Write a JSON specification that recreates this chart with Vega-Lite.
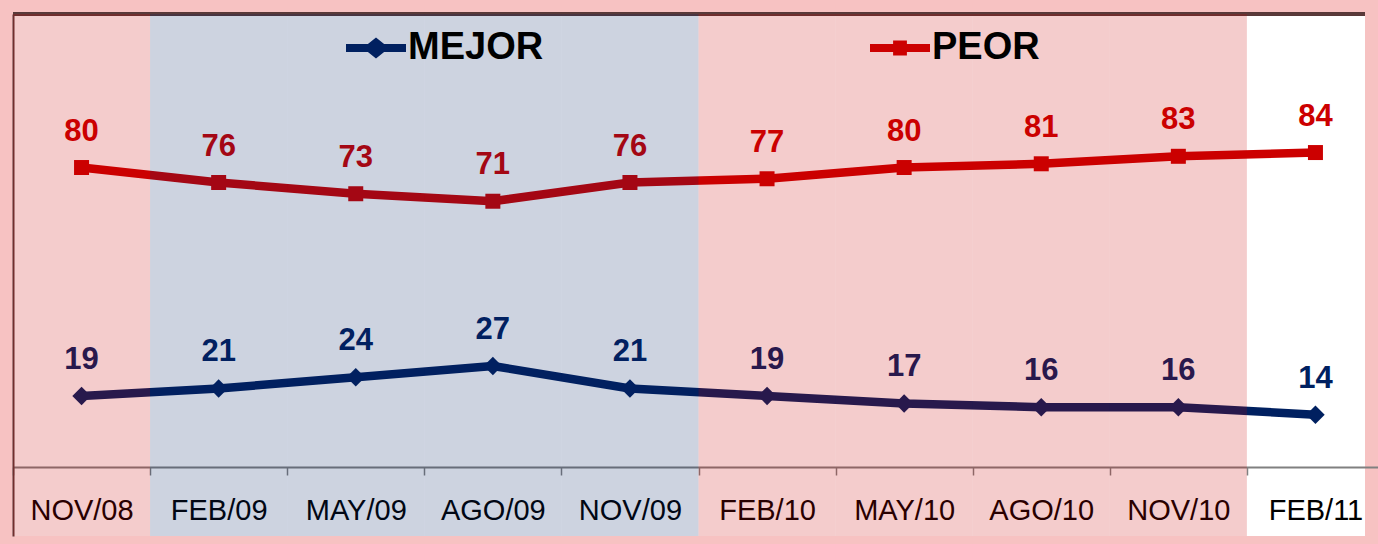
{
  "$schema": "https://vega.github.io/schema/vega-lite/v6.json",
  "width": 1352,
  "height": 522,
  "autosize": {"type": "none"},
  "padding": {"left": 13, "top": 14, "right": 13, "bottom": 8},
  "background": "#F7C2C2",
  "config": {
    "view": {"stroke": null, "fill": "#FFFFFF"},
    "font": "Liberation Sans"
  },
  "datasets": {
    "serie": [
      {"fecha": "NOV/08", "serie": "MEJOR", "valor": 19},
      {"fecha": "FEB/09", "serie": "MEJOR", "valor": 21},
      {"fecha": "MAY/09", "serie": "MEJOR", "valor": 24},
      {"fecha": "AGO/09", "serie": "MEJOR", "valor": 27},
      {"fecha": "NOV/09", "serie": "MEJOR", "valor": 21},
      {"fecha": "FEB/10", "serie": "MEJOR", "valor": 19},
      {"fecha": "MAY/10", "serie": "MEJOR", "valor": 17},
      {"fecha": "AGO/10", "serie": "MEJOR", "valor": 16},
      {"fecha": "NOV/10", "serie": "MEJOR", "valor": 16},
      {"fecha": "FEB/11", "serie": "MEJOR", "valor": 14},
      {"fecha": "NOV/08", "serie": "PEOR", "valor": 80},
      {"fecha": "FEB/09", "serie": "PEOR", "valor": 76},
      {"fecha": "MAY/09", "serie": "PEOR", "valor": 73},
      {"fecha": "AGO/09", "serie": "PEOR", "valor": 71},
      {"fecha": "NOV/09", "serie": "PEOR", "valor": 76},
      {"fecha": "FEB/10", "serie": "PEOR", "valor": 77},
      {"fecha": "MAY/10", "serie": "PEOR", "valor": 80},
      {"fecha": "AGO/10", "serie": "PEOR", "valor": 81},
      {"fecha": "NOV/10", "serie": "PEOR", "valor": 83},
      {"fecha": "FEB/11", "serie": "PEOR", "valor": 84}
    ],
    "zonas": [
      {"fecha": "NOV/08", "zona": "rosa"},
      {"fecha": "FEB/09", "zona": "azul"},
      {"fecha": "MAY/09", "zona": "azul"},
      {"fecha": "AGO/09", "zona": "azul"},
      {"fecha": "NOV/09", "zona": "azul"},
      {"fecha": "FEB/10", "zona": "rosa"},
      {"fecha": "MAY/10", "zona": "rosa"},
      {"fecha": "AGO/10", "zona": "rosa"},
      {"fecha": "NOV/10", "zona": "rosa"}
    ]
  },
  "encoding": {
    "x": {
      "field": "fecha",
      "type": "ordinal",
      "sort": null,
      "scale": {
        "domain": ["NOV/08", "FEB/09", "MAY/09", "AGO/09", "NOV/09", "FEB/10", "MAY/10", "AGO/10", "NOV/10", "FEB/11"],
        "range": [0, 1371],
        "paddingInner": 0,
        "paddingOuter": 0
      },
      "axis": {
        "orient": "bottom",
        "offset": -69,
        "title": null,
        "labelAngle": 0,
        "tickBand": "extent",
        "domainColor": "#808080",
        "domainWidth": 2,
        "tickColor": "#808080",
        "tickWidth": 1.5,
        "tickSize": 8,
        "labelFont": "Liberation Sans",
        "labelFontSize": 29,
        "labelColor": "#000000",
        "labelPadding": 21
      }
    }
  },
  "layer": [
    {
      "data": {"name": "serie"},
      "mark": {"type": "rule", "color": "#5A3A3A", "strokeWidth": 2.5},
      "encoding": {
        "x": null,
        "y": {"datum": 121, "type": "quantitative", "scale": {"domain": [-18.4, 121], "nice": false, "zero": false},
              "axis": {"orient": "left", "labels": false, "ticks": false, "grid": false, "title": null, "domainColor": "#5A3A3A", "domainWidth": 2}}
      }
    },
    {
      "data": {"name": "serie"},
      "mark": {"type": "line", "strokeWidth": 8.5, "strokeJoin": "round"},
      "encoding": {
        "y": {"field": "valor", "type": "quantitative"},
        "color": {"field": "serie", "type": "nominal", "scale": {"domain": ["MEJOR", "PEOR", "rosa", "azul"], "range": ["#002060", "#CC0000", "#C80000", "#052364"]}, "legend": null}
      }
    },
    {
      "data": {"name": "serie"},
      "transform": [{"filter": "datum.serie == 'MEJOR'"}],
      "mark": {"type": "point", "shape": "diamond", "size": 340, "filled": true, "opacity": 1},
      "encoding": {
        "y": {"field": "valor", "type": "quantitative"},
        "color": {"field": "serie", "type": "nominal", "legend": null}
      }
    },
    {
      "data": {"name": "serie"},
      "transform": [{"filter": "datum.serie == 'PEOR'"}],
      "mark": {"type": "point", "shape": "square", "size": 225, "filled": true, "opacity": 1},
      "encoding": {
        "y": {"field": "valor", "type": "quantitative"},
        "color": {"field": "serie", "type": "nominal", "legend": null}
      }
    },
    {
      "data": {"name": "serie"},
      "mark": {"type": "text", "fontSize": 31, "fontWeight": "bold", "font": "Liberation Sans", "baseline": "middle", "align": "center", "dy": -36},
      "encoding": {
        "y": {"field": "valor", "type": "quantitative"},
        "text": {"field": "valor", "type": "quantitative"},
        "color": {"field": "serie", "type": "nominal", "legend": null}
      }
    },
    {
      "data": {"name": "zonas"},
      "mark": {"type": "rect", "opacity": 0.2},
      "encoding": {
        "y": {"datum": 121, "type": "quantitative"},
        "y2": {"datum": -18.4},
        "color": {"field": "zona", "type": "nominal", "legend": null}
      }
    },
    {
      "data": {"name": "serie"},
      "mark": {"type": "point", "opacity": 0, "filled": true},
      "encoding": {
        "y": {"field": "valor", "type": "quantitative"},
        "fill": {
          "field": "serie", "type": "nominal",
          "scale": {"domain": ["MEJOR", "PEOR"], "range": ["#002060", "#CC0000"]},
          "legend": {"orient": "none", "legendX": 333, "legendY": 4, "direction": "horizontal", "title": null, "labelFont": "Liberation Sans", "labelFontSize": 38, "labelFontWeight": "bold", "labelColor": "#000000", "symbolSize": 3600, "symbolOpacity": 1, "symbolStrokeWidth": 0, "columnPadding": 326, "labelOffset": 2, "padding": 0}
        },
        "shape": {
          "field": "serie", "type": "nominal",
          "scale": {"domain": ["MEJOR", "PEOR"], "range": [
            "M-1,-0.13L-0.27,-0.13L0,-0.35L0.27,-0.13L1,-0.13L1,0.13L0.27,0.13L0,0.35L-0.27,0.13L-1,0.13Z",
            "M-1,-0.13L-0.23,-0.13L-0.23,-0.25L0.23,-0.25L0.23,-0.13L1,-0.13L1,0.13L0.23,0.13L0.23,0.25L-0.23,0.25L-0.23,0.13L-1,0.13Z"
          ]},
          "legend": {"orient": "none", "legendX": 333, "legendY": 4, "direction": "horizontal", "title": null, "labelFont": "Liberation Sans", "labelFontSize": 38, "labelFontWeight": "bold", "labelColor": "#000000", "symbolSize": 3600, "symbolOpacity": 1, "symbolStrokeWidth": 0, "columnPadding": 326, "labelOffset": 2, "padding": 0}
        }
      }
    }
  ]
}
